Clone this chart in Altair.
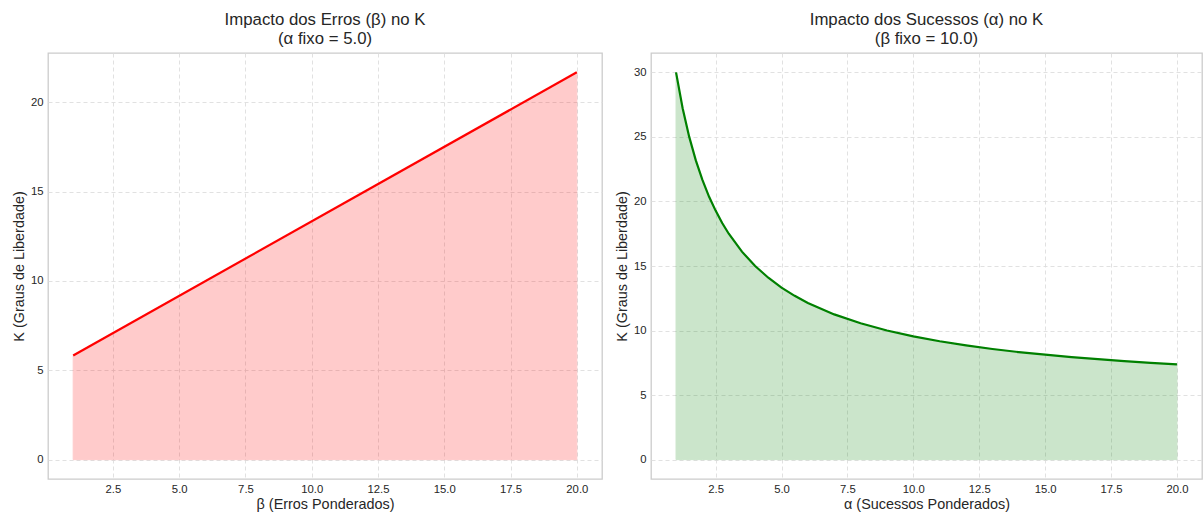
import altair as alt
import pandas as pd

# Left panel: K vs beta (alpha fixed = 5.0)
beta_vals = [1.0, 20.0]
k_beta = [5.83, 21.67]

# Right panel: K vs alpha (beta fixed = 10.0)
alpha_vals = [1.0, 1.25, 1.5, 1.75, 2.0, 2.25, 2.5, 2.75, 3.0, 3.5, 4.0, 4.5, 5.0,
              5.5, 6.0, 7.0, 8.0, 9.0, 10.0, 11.0, 12.0, 13.0, 14.0, 15.0, 16.0,
              17.0, 18.0, 19.0, 20.0]
k_alpha = [30.0, 27.22, 25.0, 23.18, 21.67, 20.38, 19.29, 18.33, 17.5, 16.11, 15.0,
           14.09, 13.33, 12.69, 12.14, 11.25, 10.56, 10.0, 9.55, 9.17, 8.85, 8.57,
           8.33, 8.13, 7.94, 7.78, 7.63, 7.5, 7.38]

x_ticks = [2.5, 5.0, 7.5, 10.0, 12.5, 15.0, 17.5, 20.0]

df_left = pd.DataFrame({"x": beta_vals, "k": k_beta, "base": [0.0] * len(beta_vals)})
df_right = pd.DataFrame({"x": alpha_vals, "k": k_alpha, "base": [0.0] * len(alpha_vals)})

FONT = "Liberation Sans"
H = 426


def panel(df, color, xtitle, ydomain, yticks, title_lines, width):
    x = alt.X("x:Q", scale=alt.Scale(domain=[0.05, 20.95], nice=False, zero=False),
              axis=alt.Axis(values=x_ticks, format=".1f", title=xtitle))
    y = alt.Y("k:Q", scale=alt.Scale(domain=ydomain, nice=False, zero=False),
              axis=alt.Axis(values=yticks, format="d", title="K (Graus de Liberdade)"))
    area = alt.Chart(df).mark_area(color=color, opacity=0.2, stroke=color,
                                   strokeWidth=1).encode(x=x, y=y, y2="base:Q")
    line = alt.Chart(df).mark_line(color=color, strokeWidth=2.2).encode(x=x, y=y)
    return alt.layer(area, line).properties(
        width=width, height=H,
        title=alt.TitleParams(title_lines, anchor="middle", fontSize=16.8,
                              font=FONT, color="#262626", fontWeight="normal",
                              lineHeight=19.5, offset=5),
    )


left = panel(df_left, "red", "β (Erros Ponderados)", [-1.083, 22.75],
             [0, 5, 10, 15, 20], ["Impacto dos Erros (β) no K", "(α fixo = 5.0)"], 554)
right = panel(df_right, "green", "α (Sucessos Ponderados)", [-1.5, 31.5],
              [0, 5, 10, 15, 20, 25, 30],
              ["Impacto dos Sucessos (α) no K", "(β fixo = 10.0)"], 551)

chart = alt.hconcat(left, right, spacing=49, bounds="flush").properties(
    padding={"left": 11, "top": 11, "right": 0, "bottom": 0},
).configure_view(
    stroke="#cccccc", strokeWidth=1.3
).configure_axis(
    grid=True, gridColor="#dedede", gridDash=[4, 3], gridWidth=0.9,
    domain=False, ticks=False,
    labelFont=FONT, labelFontSize=11.3, labelColor="#262626", labelPadding=4,
    titleFont=FONT, titleFontSize=14.4, titleColor="#262626", titleFontWeight="normal",
    titlePadding=3,
).configure_axisY(
    labelPadding=5, titlePadding=3.5
)

chart.save("out.html", embed_options={"renderer": "svg", "actions": False})
